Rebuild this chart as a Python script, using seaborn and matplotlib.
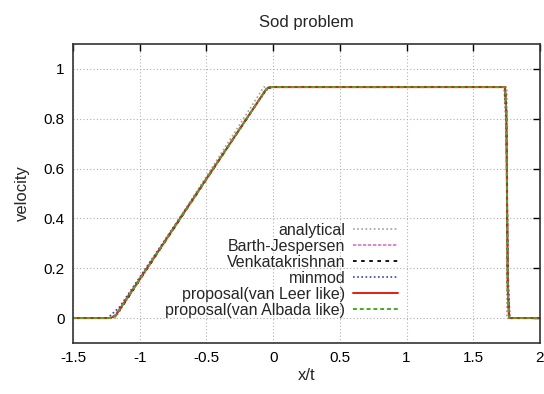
import numpy as np
import pandas as pd
import matplotlib
matplotlib.use("Agg")
import matplotlib.pyplot as plt
import seaborn as sns

# Set style close to gnuplot output
sns.set_theme(style="white")
plt.rcParams['font.family'] = ['Liberation Sans', 'DejaVu Sans']

# Velocity profiles of the Sod problem
analytical_x = [-1.5, -1.183, -0.070, 1.752, 1.752, 2.0]
analytical_y = [0.0, 0.0, 0.927, 0.927, 0.0, 0.0]

barth_x = [-1.5, -1.23, -1.19, -1.15, -0.10, -0.05, -0.02, 1.735, 1.748, 1.762, 1.772, 2.0]
barth_y = [0.0, 0.0, 0.01, 0.04, 0.88, 0.92, 0.927, 0.927, 0.80, 0.15, 0.0, 0.0]

venkat_x = [-1.5, -1.22, -1.18, -1.14, -0.10, -0.05, -0.02, 1.738, 1.748, 1.758, 1.768, 2.0]
venkat_y = [0.0, 0.0, 0.01, 0.04, 0.88, 0.92, 0.927, 0.927, 0.82, 0.12, 0.0, 0.0]

minmod_x = [-1.5, -1.24, -1.20, -1.15, -0.11, -0.05, -0.01, 1.732, 1.746, 1.762, 1.774, 2.0]
minmod_y = [0.0, 0.0, 0.02, 0.045, 0.87, 0.915, 0.927, 0.927, 0.78, 0.14, 0.0, 0.0]

vanleer_x = [-1.5, -1.22, -1.18, -1.15, -0.10, -0.05, -0.02, 1.738, 1.748, 1.758, 1.768, 2.0]
vanleer_y = [0.0, 0.0, 0.01, 0.035, 0.88, 0.92, 0.927, 0.927, 0.82, 0.12, 0.0, 0.0]

vanalbada_x = [-1.5, -1.22, -1.18, -1.15, -0.10, -0.05, -0.02, 1.738, 1.748, 1.758, 1.768, 2.0]
vanalbada_y = [0.0, 0.0, 0.01, 0.035, 0.88, 0.92, 0.927, 0.927, 0.82, 0.12, 0.0, 0.0]

series = [
    ('analytical', analytical_x, analytical_y, '#a0a0a0', (0, (1, 1.5)), 1.2),
    ('Barth-Jespersen', barth_x, barth_y, '#e070c0', (0, (2, 1)), 1.2),
    ('Venkatakrishnan', venkat_x, venkat_y, '#000000', (0, (2, 2.5)), 1.3),
    ('minmod', minmod_x, minmod_y, '#3040c0', (0, (1, 1.5)), 1.2),
    ('proposal(van Leer like)', vanleer_x, vanleer_y, '#e02010', '-', 1.4),
    ('proposal(van Albada like)', vanalbada_x, vanalbada_y, '#40b020', (0, (2, 1.5)), 1.4),
]

fig, ax = plt.subplots(figsize=(5.44, 3.94), dpi=100)
fig.subplots_adjust(left=73/544, right=540/544, top=1-44/394, bottom=1-343/394)

for label, xs, ys, color, ls, lw in series:
    df = pd.DataFrame({'x': xs, 'y': ys})
    sns.lineplot(data=df, x='x', y='y', ax=ax, sort=False, estimator=None,
                 color=color, linestyle=ls, linewidth=lw, label=label)

ax.set_xlim(-1.5, 2)
ax.set_ylim(-0.1, 1.1)
ax.set_xticks(np.arange(-1.5, 2.01, 0.5))
ax.set_xticklabels(['-1.5', '-1', '-0.5', '0', '0.5', '1', '1.5', '2'])
ax.set_yticks([0, 0.2, 0.4, 0.6, 0.8, 1])
ax.set_yticklabels(['0', '0.2', '0.4', '0.6', '0.8', '1'])
ax.grid(True, color='#b0b0b0', linestyle=(0, (1, 2)), linewidth=0.8)
ax.tick_params(direction='in', top=True, right=True, length=5, width=1,
               labelsize=11, colors='black', pad=6)
for sp in ax.spines.values():
    sp.set_color('#333333')
    sp.set_linewidth(1.2)

ax.set_title('Sod problem', fontsize=12, pad=12)
ax.set_xlabel('x/t', fontsize=12, labelpad=2)
ax.set_ylabel('velocity', fontsize=12, labelpad=10)

ax.legend(loc='upper right', bbox_to_anchor=(0.71, 0.423), frameon=False,
          markerfirst=False, fontsize=11.5, handlelength=2.8, handletextpad=0.5,
          labelspacing=0.06, borderaxespad=0)

plt.savefig('out.png', dpi=100)
plt.close()
